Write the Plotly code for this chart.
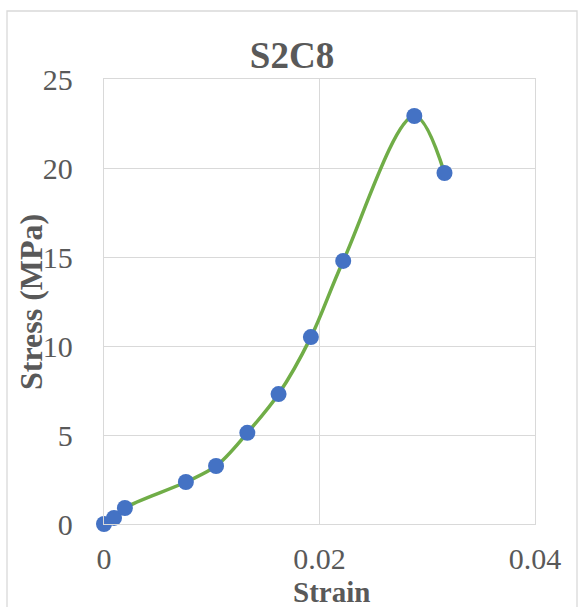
import plotly.graph_objects as go

# Stress-strain test data for specimen S2C8
strain = [0.0, 0.00093, 0.00194, 0.0076, 0.0104, 0.0133, 0.0162, 0.0192, 0.0222, 0.0288, 0.0316]
stress = [0.0, 0.34, 0.90, 2.36, 3.26, 5.12, 7.30, 10.50, 14.78, 22.92, 19.72]

x_ticks = [0, 0.02, 0.04]
x_tick_text = ["0", "0.02", "0.04"]
y_ticks = [0, 5, 10, 15, 20, 25]

W, H = 584, 607
L, R, T, B = 104, 49, 79, 83
pw, ph = W - L - R, H - T - B

def px_x(p):
    return (p - L) / pw

def px_y(p):
    return (H - B - p) / ph

FONT = "Liberation Serif"
TXT = "#595959"
GRID = "#D9D9D9"

fig = go.Figure()
fig.add_trace(go.Scatter(
    x=strain, y=stress,
    mode="lines+markers",
    line=dict(color="#70AD47", width=3.5, shape="spline", smoothing=1.0),
    marker=dict(color="#4472C4", size=16),
    cliponaxis=False,
    showlegend=False,
))

fig.update_layout(
    width=W, height=H,
    margin=dict(l=L, r=R, t=T, b=B),
    paper_bgcolor="white",
    plot_bgcolor="white",
    title=dict(
        text="<b>S2C8</b>",
        font=dict(family=FONT, size=37, color=TXT),
        x=0.5, xanchor="center",
        y=1 - 55 / H, yanchor="middle", yref="container",
    ),
    xaxis=dict(
        range=[0, 0.04],
        tickvals=x_ticks, ticktext=x_tick_text,
        showgrid=True, gridcolor=GRID, gridwidth=1.3,
        zeroline=False,
        showline=True, linecolor=GRID, linewidth=1.3, mirror=True,
        ticks="", ticklabelstandoff=8,
        tickfont=dict(family=FONT, size=30, color=TXT),
    ),
    yaxis=dict(
        range=[0, 25],
        tickvals=y_ticks,
        showgrid=True, gridcolor=GRID, gridwidth=1.3,
        zeroline=False,
        showline=True, linecolor=GRID, linewidth=1.3, mirror=True,
        ticks="", ticklabelstandoff=24,
        tickfont=dict(family=FONT, size=30, color=TXT),
    ),
    annotations=[
        dict(text="<b>Strain</b>", xref="paper", yref="paper",
             x=px_x(331), y=px_y(592), xanchor="center", yanchor="middle",
             showarrow=False, font=dict(family=FONT, size=29, color=TXT)),
        dict(text="<b>Stress (MPa)</b>", xref="paper", yref="paper",
             x=px_x(31), y=px_y(302), xanchor="center", yanchor="middle",
             textangle=-90,
             showarrow=False, font=dict(family=FONT, size=32, color=TXT)),
    ],
    shapes=[
        dict(type="rect", xref="paper", yref="paper",
             x0=px_x(7), x1=px_x(577), y0=px_y(615), y1=px_y(11),
             line=dict(color=GRID, width=1.3), layer="below"),
    ],
)

fig.write_html("out.html")
